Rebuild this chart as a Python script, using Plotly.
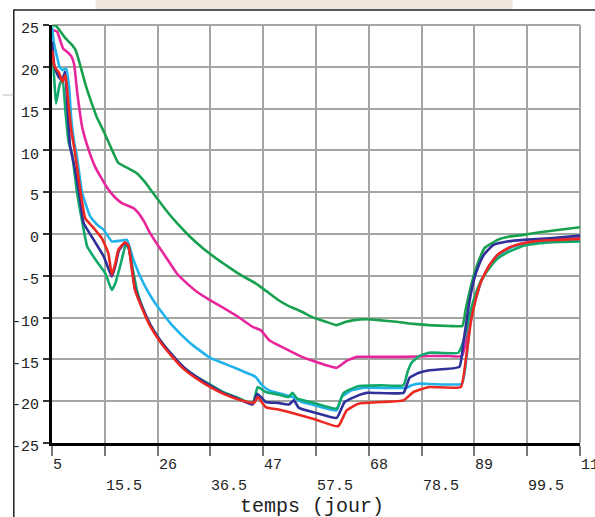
import plotly.graph_objects as go

# ---- data ----
x_ticks = [5, 15.5, 26, 36.5, 47, 57.5, 68, 78.5, 89, 99.5, 110]
x_tick_labels = ["5", "15.5", "26", "36.5", "47", "57.5", "68", "78.5", "89", "99.5", "110"]
y_ticks = [25, 20, 15, 10, 5, 0, -5, -10, -15, -20, -25]
y_tick_labels = ["25", "20", "15", "10", "5", "0", "-5", "-10", "-15", "-20", "-25"]
x_title = "temps (jour)"

green_top_x = [5, 5.8, 6.7, 7.7, 8.7, 9.7, 10.7, 11.6, 12.8, 13.9, 15.5, 17.2, 18.2, 20, 21.8, 23.5, 25.1, 28, 30, 32.4, 35, 37.6, 40, 42.5, 45.5, 48, 50, 52, 54.7, 57, 59.5, 61.6, 63.5, 65, 67.6, 70, 73.5, 76, 80, 84, 86.6, 87.3, 88.1, 88.9, 90, 91, 92.5, 93.6, 96, 98.8, 102, 106, 110]
green_top_y = [25, 24.9, 24.2, 23.4, 22.8, 22, 20, 18, 15.8, 14, 12, 9.7, 8.5, 7.9, 7.3, 6.2, 4.9, 2.6, 1.2, -0.3, -1.7, -2.9, -3.9, -4.9, -5.9, -7, -7.9, -8.6, -9.3, -10, -10.5, -10.9, -10.5, -10.3, -10.2, -10.3, -10.5, -10.7, -10.9, -11, -11, -8.9, -6.8, -4.9, -3, -1.7, -1.1, -0.7, -0.3, -0.1, 0.2, 0.5, 0.8]

magenta_x = [5, 6, 6.6, 7.2, 8, 8.8, 9.4, 10, 11, 12, 13.6, 15.9, 17.5, 18.9, 21.2, 22.2, 23.3, 24.5, 26, 27.8, 29.8, 32, 34, 36.4, 39, 42, 44.9, 46.5, 48.2, 51, 54.7, 57, 59, 61.6, 63.5, 65.6, 70, 75, 80, 84, 86.5, 87.5, 88.3, 89.3, 90.3, 92, 93.6, 96, 98.8, 102, 106, 110]
magenta_y = [24.4, 24.2, 23.2, 22.2, 21.8, 21.3, 20.3, 17, 12.8, 10.6, 8, 5.6, 4.4, 3.7, 3.1, 2.5, 1.5, 0.1, -1.3, -2.9, -4.7, -6, -7, -7.9, -8.8, -9.9, -11.1, -11.5, -12.7, -13.6, -14.7, -15.2, -15.6, -16, -15.2, -14.7, -14.7, -14.7, -14.6, -14.6, -14.6, -12.5, -9.7, -7.6, -5.7, -3.8, -2.5, -1.6, -1.1, -0.8, -0.6, -0.5]

cyan_x = [5, 5.4, 6, 6.5, 7.1, 7.8, 8.4, 8.8, 9.4, 9.9, 11, 12.6, 14, 15.3, 16.9, 18.5, 19.9, 21.2, 23.2, 25.1, 26.5, 29, 32.4, 36.4, 40.9, 44.9, 45.5, 46.8, 48.2, 52.8, 54.7, 57.4, 61.6, 62.6, 64.6, 67.2, 75.5, 76.5, 78, 86.5, 87.4, 88, 88.5, 89.5, 90.3, 92, 93.6, 96, 98.8, 102, 106, 110]
cyan_y = [24.8, 22.8, 21.2, 20, 19.6, 19.8, 17.6, 14, 11, 9.5, 4.9, 2.1, 1.1, 0.5, -0.9, -0.8, -0.7, -3.1, -5.9, -7.9, -9.1, -11, -13, -14.8, -15.9, -16.9, -17.1, -18.1, -18.7, -19.5, -20.1, -20.5, -21.1, -19.5, -18.7, -18.4, -18.4, -18.1, -17.9, -17.9, -15, -11.5, -9.5, -7.3, -5.7, -3.8, -2.6, -1.7, -1.2, -0.9, -0.8, -0.8]

green_low_x = [5, 5.4, 5.8, 6.5, 7.1, 7.7, 8.3, 9, 10, 11, 12, 13.8, 15.6, 16.9, 17.6, 18.7, 19.7, 20.4, 21, 22, 23.2, 24.5, 26.5, 28.5, 31.1, 33.5, 36.4, 39, 41.6, 44.9, 45.9, 47.5, 50, 52.1, 52.8, 53.8, 57, 61.6, 63, 65.9, 70.5, 74.9, 75.7, 76.5, 78, 80, 85.8, 87, 88, 89, 90.3, 91.6, 93.5, 95.6, 98.8, 102, 106, 110]
green_low_y = [22.5, 19, 15.6, 17.8, 18.6, 14.5, 11, 9.5, 4.9, 1.5, -1.5, -3.2, -4.7, -6.7, -5.9, -3.5, -1.2, -2, -4, -7, -9.1, -10.8, -12.7, -14.2, -15.9, -17, -18, -18.9, -19.5, -20.3, -18.3, -18.9, -19.2, -19.5, -19, -19.7, -20.2, -20.9, -19, -18.2, -18.1, -18.1, -16.5, -15.4, -14.6, -14.2, -14.2, -12.5, -9.8, -7.6, -5.6, -4.4, -3, -2.2, -1.4, -1.1, -0.95, -0.9]

navy_x = [5, 5.5, 6.3, 7, 7.6, 8.1, 8.6, 9.5, 10.5, 11.3, 13.3, 15.3, 16.9, 17.6, 18.3, 19.5, 20.2, 20.8, 21.5, 23.2, 24.5, 26.5, 28.5, 31.1, 33.5, 36.4, 39, 41.6, 44.9, 45.8, 47.5, 50, 52.1, 53.1, 54.1, 57.5, 61.6, 63.2, 65.9, 67.6, 74.9, 75.6, 76.1, 78, 80, 86, 86.8, 87.9, 88.9, 89.9, 91, 92.8, 95.5, 98.8, 104, 110]
navy_y = [23, 20, 18.8, 18.4, 19.4, 15, 10.5, 8, 4.5, 1.3, -0.7, -2.7, -5.1, -3.8, -2, -1.1, -1.4, -3.7, -6.5, -9.1, -10.8, -12.7, -14.2, -15.9, -17, -18.1, -19, -19.6, -20.4, -19.1, -20.1, -20.2, -20.4, -19.9, -20.8, -21.4, -22, -20.1, -19.3, -19, -19, -18, -17.2, -16.6, -16.3, -15.9, -13, -8.5, -5.5, -3.7, -2.4, -1.3, -0.9, -0.7, -0.5, -0.2]

red_x = [5, 5.5, 6.4, 7.1, 7.7, 8.2, 8.8, 9.5, 10.7, 11.6, 13.3, 14.9, 16.2, 16.9, 17.6, 18.2, 19.5, 20.2, 20.8, 21.5, 23.2, 24.5, 26.5, 28.5, 31.1, 33.5, 36.4, 39, 41.6, 45.2, 45.9, 47.5, 50, 52.8, 57.4, 61.9, 63.6, 65.9, 70.5, 74.9, 76.9, 80, 86.3, 87.3, 88.3, 89.3, 90.3, 92, 93.6, 96, 98.8, 102, 106, 110]
red_y = [22, 20, 19.3, 18.2, 19, 16, 12.5, 10, 4.9, 1.9, 0.7, -0.5, -2.3, -4.9, -3.5, -1.9, -1, -1.4, -3.9, -6.7, -9.3, -11, -12.9, -14.4, -16.1, -17.2, -18.3, -19.1, -19.7, -20.2, -19.5, -20.7, -21, -21.4, -22.2, -23, -21.1, -20.3, -20.1, -19.9, -18.9, -18.3, -18.3, -15, -10.5, -7.7, -5.7, -3.7, -2.5, -1.6, -1.1, -0.8, -0.7, -0.6]

series = [
    (green_top_x, green_top_y, "#17a04e"),
    (magenta_x, magenta_y, "#e8269c"),
    (cyan_x, cyan_y, "#22b2ec"),
    (green_low_x, green_low_y, "#12a86a"),
    (navy_x, navy_y, "#30309a"),
    (red_x, red_y, "#ec2820"),
]

FONT = "Liberation Mono, Courier New, monospace"

fig = go.Figure()
for xs, ys, col in series:
    fig.add_trace(go.Scatter(x=xs, y=ys, mode="lines", line_shape="spline",
                             line=dict(color=col, width=2.6, smoothing=0.4), showlegend=False))

GRID = "#a2a7a2"
fig.update_xaxes(range=[5, 110], tickvals=x_ticks, showticklabels=False,
                 ticks="outside", ticklen=10, tickcolor="#777", tickwidth=1.5,
                 showgrid=True, gridcolor=GRID, gridwidth=2, zeroline=False,
                 showline=True, linecolor="black", linewidth=3)
fig.update_yaxes(range=[-25, 25], tickvals=y_ticks, ticktext=y_tick_labels,
                 ticks="outside", ticklen=6, tickcolor="#333", tickwidth=1.5,
                 tickfont=dict(family=FONT, size=15, color="#222"),
                 ticklabelshift=3, ticklabelstandoff=1,
                 showgrid=True, gridcolor=GRID, gridwidth=2, zeroline=False,
                 showline=True, linecolor="black", linewidth=3)

annotations = []
for i, (v, t) in enumerate(zip(x_ticks, x_tick_labels)):
    annotations.append(dict(x=v, y=-0.053 if i % 2 == 0 else -0.103, xref="x", yref="paper",
                            text=t, showarrow=False, xanchor="left", yanchor="middle",
                            xshift=-1, font=dict(family=FONT, size=15, color="#222")))
annotations.append(dict(x=0.4925, y=-0.153, xref="paper", yref="paper", text=x_title,
                        showarrow=False, xanchor="center", yanchor="middle",
                        font=dict(family=FONT, size=20, color="#222")))

shapes = [
    # top and right border of the plotting area (grey, like the grid)
    dict(type="line", xref="paper", yref="paper", x0=0, x1=1, y0=1, y1=1,
         line=dict(color=GRID, width=2), layer="below"),
    dict(type="line", xref="paper", yref="paper", x0=1, x1=1, y0=0, y1=1,
         line=dict(color=GRID, width=2), layer="below"),
    # page artefacts of the scanned figure
    dict(type="rect", xref="paper", yref="paper", x0=44 / 532, x1=464 / 532,
         y0=(443 - 9) / 418, y1=443 / 418 + 0.01, fillcolor="#f1e6dd", line=dict(width=0)),
    dict(type="line", xref="paper", yref="paper", x0=-39 / 532, x1=548 / 532,
         y0=433 / 418, y1=433 / 418, line=dict(color="#222", width=1.5)),
    dict(type="line", xref="paper", yref="paper", x0=-38.5 / 532, x1=-38.5 / 532,
         y0=433 / 418, y1=-80 / 418, line=dict(color="#222", width=1.5)),
    dict(type="line", xref="paper", yref="paper", x0=-50 / 532, x1=-39 / 532,
         y0=348 / 418, y1=348 / 418, line=dict(color="#bbb", width=1)),
]

fig.update_layout(width=595, height=517,
                  margin=dict(l=48, r=15, t=25, b=74, pad=0),
                  paper_bgcolor="white", plot_bgcolor="white",
                  annotations=annotations, shapes=shapes)

fig.write_html("out.html", config={"displayModeBar": False},
               post_script="document.body.style.margin='0px';document.body.style.padding='0px';")
